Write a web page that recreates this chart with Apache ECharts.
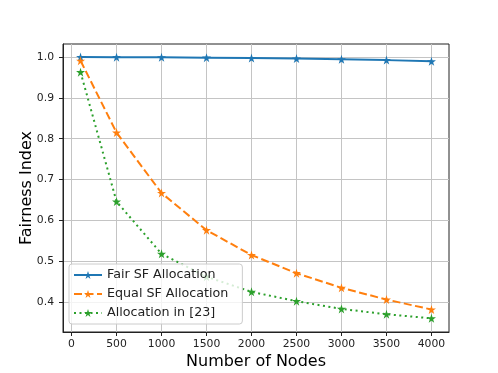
<!DOCTYPE html>
<html>
<head>
<meta charset="utf-8">
<script src="https://cdn.jsdelivr.net/npm/echarts@6/dist/echarts.min.js"></script>
<style>html,body{margin:0;padding:0;background:#fff}#c{width:498px;height:373px}</style>
</head>
<body>
<div id="c"></div>
<script>
const nodes = [100, 500, 1000, 1500, 2000, 2500, 3000, 3500, 4000];
const fairSF = [1.0, 0.9998, 0.9993, 0.9985, 0.9975, 0.9962, 0.9945, 0.9925, 0.9895];
const equalSF = [0.991, 0.815, 0.667, 0.576, 0.515, 0.4706, 0.4346, 0.406, 0.3816];
const alloc23 = [0.963, 0.646, 0.518, 0.462, 0.4248, 0.402, 0.383, 0.370, 0.360];
const xTicks = [0, 500, 1000, 1500, 2000, 2500, 3000, 3500, 4000];
const yTicks = [0.4, 0.5, 0.6, 0.7, 0.8, 0.9, 1.0];
const seriesNames = ['Fair SF Allocation', 'Equal SF Allocation', 'Allocation in [23]'];

const star = 'path://M50,0 L61.2,34.5 L97.6,34.5 L68.2,55.9 L79.4,90.5 L50,69.1 L20.6,90.5 L31.8,55.9 L2.4,34.5 L38.8,34.5 Z';
const font = 'DejaVu Sans';
const pairs = arr => nodes.map((n, i) => [n, arr[i]]);

function mkSeries(name, data, color, type) {
  return {
    name: name, type: 'line', data: pairs(data),
    symbol: star, symbolSize: 9, showAllSymbol: true,
    itemStyle: { color: color },
    lineStyle: { color: color, width: 2, type: type, cap: 'butt' },
    emphasis: { disabled: true }, animation: false
  };
}

const chart = echarts.init(document.getElementById('c'), null, { renderer: 'canvas' });
chart.setOption({
  animation: false,
  backgroundColor: '#fff',
  grid: { left: 63, right: 49, top: 44, bottom: 41, outerBoundsMode: 'none', containLabel: false, show: true, borderColor: '#222', borderWidth: 1, backgroundColor: 'transparent' },
  xAxis: {
    type: 'value', min: -95, max: 4195,
    name: 'Number of Nodes', nameLocation: 'middle', nameGap: 22, nameMoveOverlap: false,
    nameTextStyle: { fontFamily: font, fontSize: 16, color: '#000' },
    axisLine: { show: true, onZero: false, lineStyle: { color: '#222', width: 1 } },
    axisTick: { show: true, length: 4, customValues: xTicks, lineStyle: { color: '#222' } },
    axisLabel: { customValues: xTicks, fontFamily: font, fontSize: 10.8, color: '#222', margin: 7, formatter: v => String(v) },
    splitLine: { show: true, lineStyle: { color: '#c4c4c4', width: 1 } }
  },
  yAxis: {
    type: 'value', min: 0.3265, max: 1.032,
    name: 'Fairness Index', nameLocation: 'middle', nameGap: 28, nameMoveOverlap: false,
    nameTextStyle: { fontFamily: font, fontSize: 16, color: '#000' },
    axisLine: { show: true, onZero: false, lineStyle: { color: '#222', width: 1 } },
    axisTick: { show: true, length: 4, customValues: yTicks, lineStyle: { color: '#222' } },
    axisLabel: { customValues: yTicks, fontFamily: font, fontSize: 10.8, color: '#222', margin: 9, formatter: v => v.toFixed(1) },
    splitLine: { show: true, lineStyle: { color: '#c4c4c4', width: 1 } }
  },
  legend: {
    data: seriesNames, orient: 'vertical', left: 69, top: 264,
    padding: [4, 14, 4, 4], itemGap: 5, itemWidth: 28, itemHeight: 10,
    backgroundColor: 'rgba(255,255,255,0.8)', borderColor: '#cccccc', borderWidth: 1, borderRadius: 3,
    textStyle: { fontFamily: font, fontSize: 12.7, color: '#222', lineHeight: 14 },
    selectedMode: false
  },
  series: [
    mkSeries(seriesNames[0], fairSF, '#1f77b4', 'solid'),
    mkSeries(seriesNames[1], equalSF, '#ff7f0e', [8, 3.5]),
    mkSeries(seriesNames[2], alloc23, '#2ca02c', [2, 3.5])
  ]
});
</script>
</body>
</html>
